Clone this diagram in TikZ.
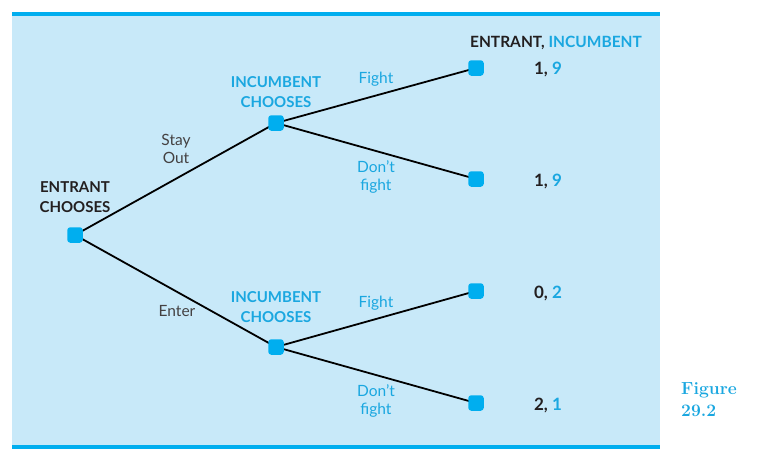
\documentclass[tikz,border=0pt]{standalone}
\usepackage{fontspec}
\newfontfamily\diag{Lato}
\definecolor{bgblue}{HTML}{C8E9F9}
\definecolor{lineblue}{HTML}{00AEEF}
\definecolor{txtblue}{HTML}{1AA7E0}
\definecolor{txtdark}{HTML}{231F20}
\begin{document}
\begin{tikzpicture}[x=1pt,y=-1pt,
  sq/.style={rectangle,rounded corners=3pt,fill=lineblue,minimum size=15.5pt,inner sep=0pt},
  edge/.style={draw=black,line width=1.8pt},
  lbl/.style={font=\diag\fontsize{15.5}{18.5}\selectfont,align=center,inner sep=0pt},
  head/.style={font=\diag\bfseries\fontsize{15}{20.5}\selectfont,align=center,inner sep=0pt},
  pay/.style={font=\diag\bfseries\fontsize{15.5}{18}\selectfont,inner sep=0pt},
  paynum/.style={font=\diag\bfseries\fontsize{17}{18}\selectfont,inner sep=0pt}]
\useasboundingbox (0,0) rectangle (758,461);
\fill[bgblue] (12,14) rectangle (660,447);
\fill[lineblue] (12,11.5) rectangle (660,15.5);
\fill[lineblue] (12,445) rectangle (660,449);
% edges
\coordinate (r) at (75,235);
\coordinate (u) at (276,123);
\coordinate (l) at (276,347);
\coordinate (t1) at (476,68);
\coordinate (t2) at (476,179);
\coordinate (t3) at (476,291);
\coordinate (t4) at (476,403);
\draw[edge] (r) -- (u);
\draw[edge] (r) -- (l);
\draw[edge] (u) -- (t1);
\draw[edge] (u) -- (t2);
\draw[edge] (l) -- (t3);
\draw[edge] (l) -- (t4);
\node[sq] (nr) at (r) {};
\node[sq] (nu) at (u) {};
\node[sq] (nl) at (l) {};
\node[sq] (n1) at (t1) {};
\node[sq] (n2) at (t2) {};
\node[sq] (n3) at (t3) {};
\node[sq] (n4) at (t4) {};
% labels
\node[head,text=txtdark] (hr) at (75,197) {ENTRANT\\CHOOSES};
\node[head,text=txtblue] (hu) at (276,92) {INCUMBENT\\CHOOSES};
\node[head,text=txtblue] (hl) at (276,307) {INCUMBENT\\CHOOSES};
\node[lbl,text=txtdark!85] (so) at (176,149) {Stay\\Out};
\node[lbl,text=txtdark!85] (en) at (177,311) {Enter};
\node[lbl,text=txtblue] (f1) at (376,79) {Fight};
\node[lbl,text=txtblue] (d1) at (376,177) {Don’t\\fight};
\node[lbl,text=txtblue] (f2) at (376,303) {Fight};
\node[lbl,text=txtblue] (d2) at (376,401) {Don’t\\fight};
\node[pay] (hd) at (556,43) {\textcolor{txtdark}{ENTRANT,} \textcolor{txtblue}{INCUMBENT}};
\node[paynum] (p1) at (548,69) {\textcolor{txtdark}{1,} \textcolor{txtblue}{9}};
\node[paynum] (p2) at (548,181) {\textcolor{txtdark}{1,} \textcolor{txtblue}{9}};
\node[paynum] (p3) at (548,293) {\textcolor{txtdark}{0,} \textcolor{txtblue}{2}};
\node[paynum] (p4) at (548,405) {\textcolor{txtdark}{2,} \textcolor{txtblue}{1}};
\node[font=\bfseries\fontsize{17.5}{22}\selectfont,text=txtblue,align=left,anchor=west,inner sep=0pt] (fig) at (681,400) {Figure\\29.2};
\end{tikzpicture}
\end{document}
